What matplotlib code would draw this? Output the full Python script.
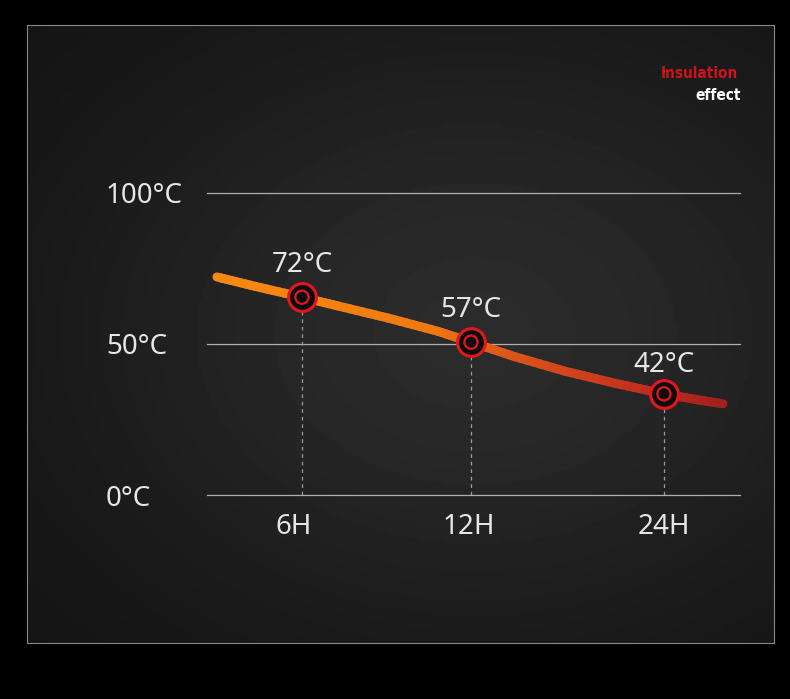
import numpy as np
import matplotlib
matplotlib.use('Agg')
import matplotlib.pyplot as plt
from matplotlib.collections import LineCollection
from matplotlib.colors import LinearSegmentedColormap
from matplotlib.patches import Rectangle

# curve (x in slot units, 6H marker = 1, 12H marker = 2)
curve_x = [0.497, 0.722, 1.0, 1.213, 1.509, 1.805, 2.0, 2.260, 2.556, 2.852, 3.142, 3.343, 3.491]
curve_y = [72.2, 69.1, 65.5, 62.6, 58.6, 54.2, 50.6, 45.8, 41.0, 37.0, 33.5, 31.5, 30.2]

marker_x = [1.0, 2.0, 3.142]
marker_y = [65.5, 50.6, 33.5]
marker_labels = ['72°C', '57°C', '42°C']
label_offset = [26, 26, 23]

hour_pos = [0.95, 1.99, 3.14]
hour_labels = ['6H', '12H', '24H']

temp_ticks = [0, 50, 100]
temp_labels = ['0°C', '50°C', '100°C']

W, H = 790, 699
fig = plt.figure(figsize=(W / 100, H / 100), dpi=100, facecolor='black')

# background panel
bg = fig.add_axes([0, 0, 1, 1])
bg.set_xlim(0, W)
bg.set_ylim(H, 0)
bg.axis('off')
gx, gy = np.meshgrid(np.linspace(0, 1, 200), np.linspace(0, 1, 200))
shade = 0.07 + 0.10 * np.exp(-((gx - 0.6) ** 2 / 0.30 + (gy - 0.5) ** 2 / 0.25))
bg.imshow(shade, cmap='gray', vmin=0, vmax=1, extent=[27, 774, 643, 25], aspect='auto')
bg.add_patch(Rectangle((27, 25), 747, 618, fill=False, edgecolor='#8a8a8a', lw=0.8))
bg.text(738, 74, 'Insulation', color='#d0121c', fontsize=11, fontweight='bold',
        family='DejaVu Sans', fontstretch='condensed', ha='right', va='center')
bg.text(741, 95, 'effect', color='white', fontsize=11, fontweight='bold',
        family='DejaVu Sans', fontstretch='condensed', ha='right', va='center')

# chart
ax = fig.add_axes([207 / W, (H - 495) / H, 533 / W, 302 / H])
ax.patch.set_alpha(0)
ax.set_xlim(0.438, 3.592)
ax.set_ylim(0, 100)
for s in ax.spines.values():
    s.set_visible(False)
ax.set_xticks([])
ax.set_yticks([])

for t in temp_ticks:
    ax.axhline(t, color='#b0b0b0', lw=0.9, zorder=1, clip_on=False)
for t, lab in zip(temp_ticks, temp_labels):
    ax.text(-0.1895, t, lab, transform=ax.get_yaxis_transform(), ha='left', va='center_baseline',
            color='#e6e6e6', fontsize=20, family='Noto Sans', clip_on=False)

for x, lab in zip(hour_pos, hour_labels):
    ax.text(x, -0.093, lab, transform=ax.get_xaxis_transform(), ha='center', va='center_baseline',
            color='#e6e6e6', fontsize=20, family='Noto Sans', clip_on=False)

for x, y in zip(marker_x, marker_y):
    ax.plot([x, x], [0, y], color='#9a9a9a', lw=0.9, dashes=(3, 3), zorder=2)

# split each straight piece so the colour gradient runs smoothly
pts = np.column_stack([curve_x, curve_y])
fine = [pts[0]]
for a, b in zip(pts[:-1], pts[1:]):
    for t in np.linspace(0, 1, 9)[1:]:
        fine.append(a + (b - a) * t)
fine = np.array(fine)
segs = np.stack([fine[:-1], fine[1:]], axis=1)
cmap = LinearSegmentedColormap.from_list('warm', [
    (0.0, '#f88a10'), (0.4, '#f07a12'), (0.58, '#dc561a'),
    (0.8, '#c2301e'), (1.0, '#a21f1f')])
lc = LineCollection(segs, cmap=cmap, linewidths=6.5, capstyle='round', joinstyle='round', zorder=3)
lc.set_array(np.linspace(0, 1, len(segs)))
ax.add_collection(lc)

ax.scatter(marker_x, marker_y, s=400, facecolor='#0a0a0a', edgecolor='#e3161e', linewidth=2.2, zorder=4)
ax.scatter(marker_x, marker_y, s=90, facecolor='none', edgecolor='#e3161e', linewidth=1.6, zorder=5)

for x, y, lab, off in zip(marker_x, marker_y, marker_labels, label_offset):
    ax.annotate(lab, (x, y), xytext=(0, off), textcoords='offset points', ha='center',
                va='center_baseline', color='#e6e6e6', fontsize=20, family='Noto Sans', zorder=6)

fig.savefig('out.png', dpi=100, facecolor='black')
